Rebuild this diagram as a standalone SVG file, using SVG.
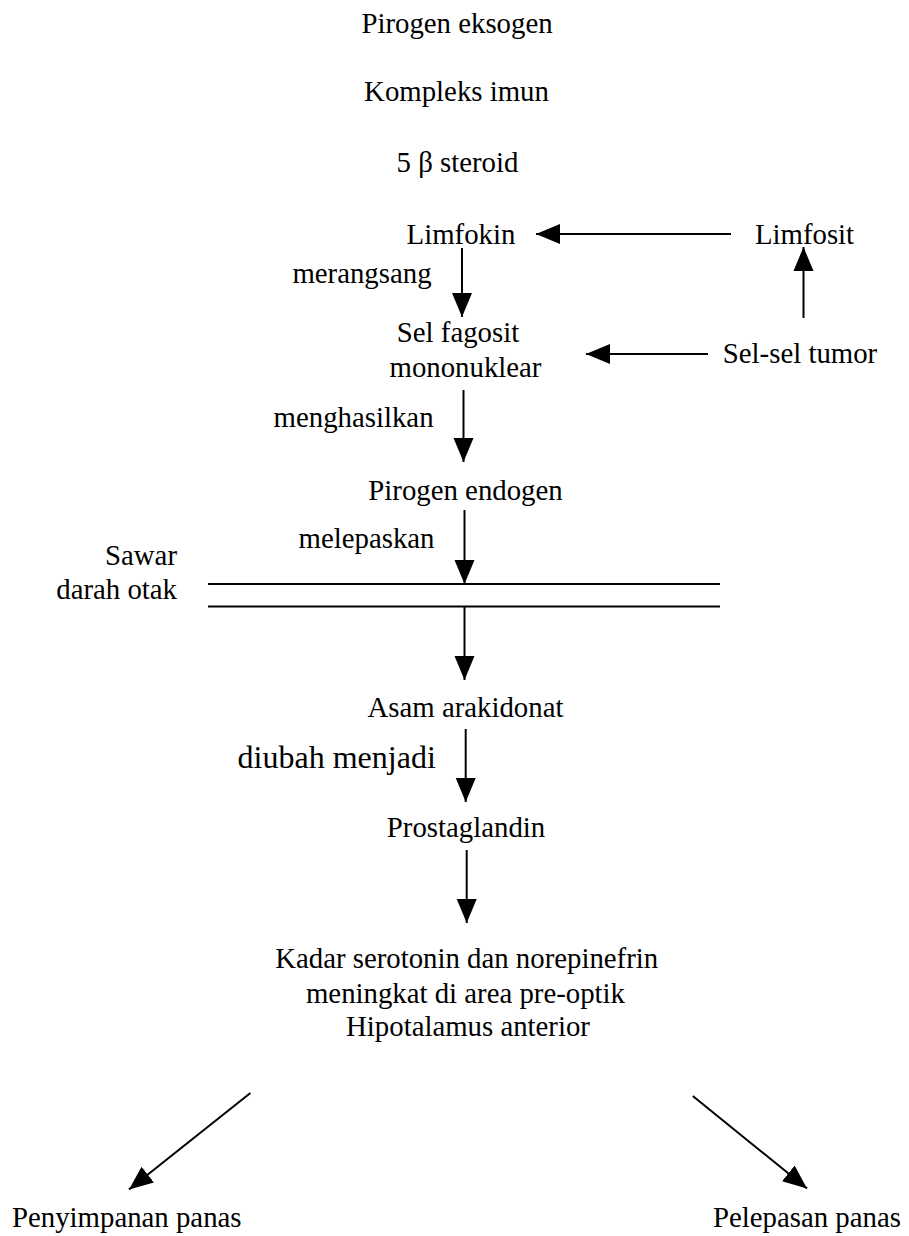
<svg xmlns="http://www.w3.org/2000/svg" width="909" height="1236" viewBox="0 0 909 1236">
<style>
  .t { font-family: "Liberation Serif", "Times New Roman", serif; font-size: 28.8px; fill: #000; }
  .c { text-anchor: middle; }
  .e { text-anchor: end; }
  .big { font-size: 32px; }
  .ln { stroke: #000; stroke-width: 2; fill: none; }
  .arr { stroke: #000; stroke-width: 2; fill: none; marker-end: url(#ah); }
</style>
<defs>
  <marker id="ah" markerUnits="userSpaceOnUse" markerWidth="26" markerHeight="22" refX="24" refY="10" orient="auto" viewBox="0 0 26 20">
    <path d="M0,0 L24,10 L0,20 z" fill="#000"/>
  </marker>
</defs>
<rect width="909" height="1236" fill="#fff"/>

<g id="connectors">
  <line class="arr" x1="731" y1="234" x2="536" y2="234"/>
  <line class="arr" x1="803.5" y1="318" x2="803.5" y2="247"/>
  <line class="arr" x1="462" y1="248" x2="462" y2="317"/>
  <line class="arr" x1="708" y1="354" x2="586" y2="354"/>
  <line class="arr" x1="463.5" y1="390" x2="463.5" y2="462"/>
  <line class="arr" x1="464.5" y1="510" x2="464.5" y2="584"/>
  <line class="arr" x1="464.5" y1="606" x2="464.5" y2="680"/>
  <line class="arr" x1="465.7" y1="729" x2="465.7" y2="802"/>
  <line class="arr" x1="466.7" y1="850" x2="466.7" y2="923"/>
  <line class="arr" x1="250.4" y1="1093" x2="129" y2="1189.5"/>
  <line class="arr" x1="692.8" y1="1096" x2="807" y2="1188.5"/>
</g>

<g id="sawar-darah-otak">
  <line class="ln" x1="208" y1="584" x2="720" y2="584"/>
  <line class="ln" x1="208" y1="606.5" x2="720" y2="606.5"/>
  <text class="t e" x="177" y="565">Sawar</text>
  <text class="t e" x="177" y="599">darah otak</text>
</g>

<g id="pirogen-eksogen"><text class="t c" x="457" y="33">Pirogen eksogen</text></g>
<g id="kompleks-imun"><text class="t c" x="456.5" y="101">Kompleks imun</text></g>
<g id="steroid"><text class="t c" x="457.5" y="172">5 β steroid</text></g>
<g id="limfokin"><text class="t c" x="461" y="244">Limfokin</text></g>
<g id="limfosit"><text class="t c" x="804.5" y="244">Limfosit</text></g>
<g id="label-merangsang"><text class="t c" x="362" y="283">merangsang</text></g>
<g id="sel-fagosit">
  <text class="t c" x="458" y="342">Sel fagosit</text>
  <text class="t c" x="465.5" y="377">mononuklear</text>
</g>
<g id="sel-sel-tumor"><text class="t c" x="800" y="363">Sel-sel tumor</text></g>
<g id="label-menghasilkan"><text class="t c" x="353.6" y="427">menghasilkan</text></g>
<g id="pirogen-endogen"><text class="t c" x="465.5" y="500">Pirogen endogen</text></g>
<g id="label-melepaskan"><text class="t c" x="366.5" y="548">melepaskan</text></g>
<g id="asam-arakidonat"><text class="t c" x="465.5" y="717">Asam arakidonat</text></g>
<g id="label-diubah-menjadi"><text class="t c big" x="336.7" y="768">diubah menjadi</text></g>
<g id="prostaglandin"><text class="t c" x="466" y="837">Prostaglandin</text></g>
<g id="hipotalamus">
  <text class="t c" x="466.7" y="968">Kadar serotonin dan norepinefrin</text>
  <text class="t c" x="465.5" y="1003">meningkat di area pre-optik</text>
  <text class="t c" x="468" y="1036">Hipotalamus anterior</text>
</g>
<g id="penyimpanan-panas"><text class="t" x="12" y="1227">Penyimpanan panas</text></g>
<g id="pelepasan-panas"><text class="t" x="713" y="1227">Pelepasan panas</text></g>
</svg>
